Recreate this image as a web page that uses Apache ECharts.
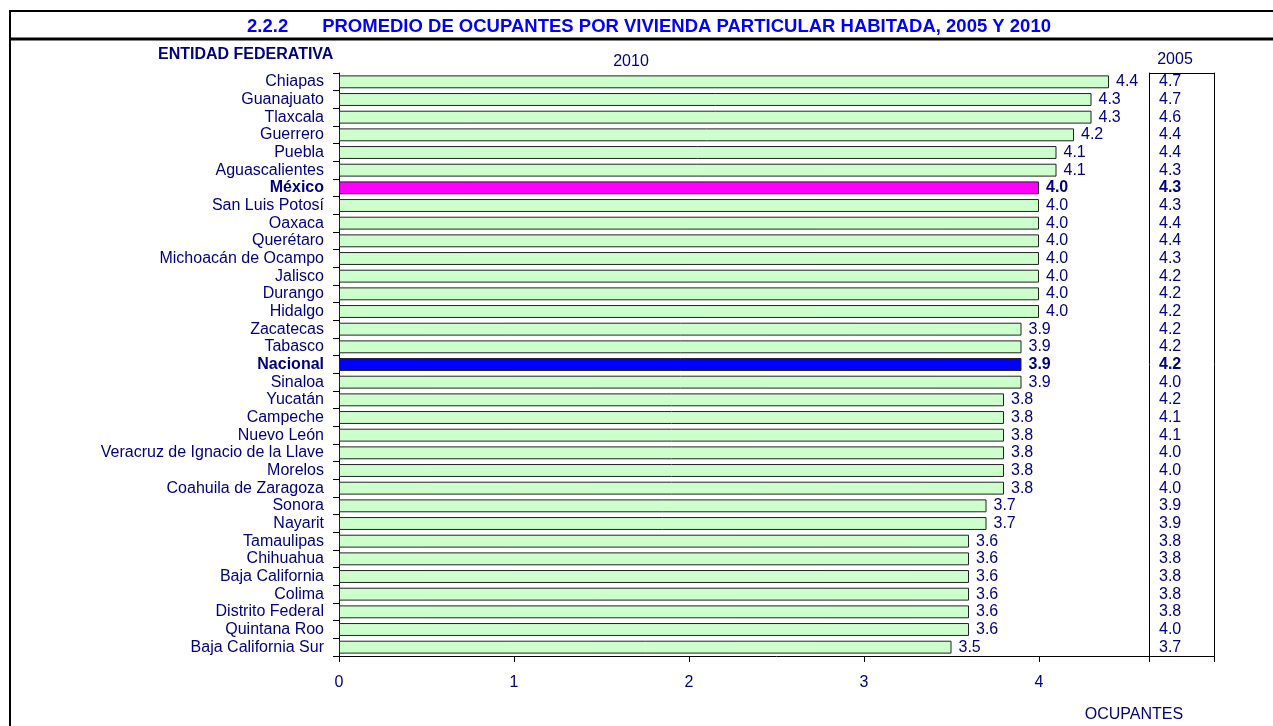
<!DOCTYPE html>
<html>
<head>
<meta charset="utf-8">
<script src="https://cdn.jsdelivr.net/npm/echarts@6/dist/echarts.min.js"></script>
<style>
html,body{margin:0;padding:0;background:#fff;}
#main{width:1273px;height:726px;}
</style>
</head>
<body>
<div id="main"></div>
<script>
const titleNumber = '2.2.2';
const titleText = 'PROMEDIO DE OCUPANTES POR VIVIENDA PARTICULAR HABITADA, 2005 Y 2010';
const categoryHeader = 'ENTIDAD FEDERATIVA';
const header2010 = '2010';
const header2005 = '2005';
const xAxisName = 'OCUPANTES';

const categories = [
  'Chiapas','Guanajuato','Tlaxcala','Guerrero','Puebla','Aguascalientes','México',
  'San Luis Potosí','Oaxaca','Querétaro','Michoacán de Ocampo','Jalisco','Durango',
  'Hidalgo','Zacatecas','Tabasco','Nacional','Sinaloa','Yucatán','Campeche','Nuevo León',
  'Veracruz de Ignacio de la Llave','Morelos','Coahuila de Zaragoza','Sonora','Nayarit',
  'Tamaulipas','Chihuahua','Baja California','Colima','Distrito Federal','Quintana Roo',
  'Baja California Sur'
];
const values2010 = [4.4,4.3,4.3,4.2,4.1,4.1,4.0,4.0,4.0,4.0,4.0,4.0,4.0,4.0,3.9,3.9,3.9,3.9,
  3.8,3.8,3.8,3.8,3.8,3.8,3.7,3.7,3.6,3.6,3.6,3.6,3.6,3.6,3.5];
const values2005 = [4.7,4.7,4.6,4.4,4.4,4.3,4.3,4.3,4.4,4.4,4.3,4.2,4.2,4.2,4.2,4.2,4.2,4.0,
  4.2,4.1,4.1,4.0,4.0,4.0,3.9,3.9,3.8,3.8,3.8,3.8,3.8,4.0,3.7];
const xTicks = [0,1,2,3,4];

const highlightColors = {'México':'#FF00FF','Nacional':'#0000FF'};
const NAVY = '#000080';
const FONT = '"Liberation Sans", Arial, sans-serif';
const FS = 16;

const chart = echarts.init(document.getElementById('main'), null, {renderer:'canvas'});

const barData = values2010.map((v,i) => {
  const hc = highlightColors[categories[i]];
  const d = {value: v};
  if (hc) {
    d.itemStyle = {color: hc};
    d.label = {fontWeight: 'bold'};
  }
  return d;
});

const option = {
  animation: false,
  backgroundColor: '#ffffff',
  textStyle: {fontFamily: FONT},
  title: [
    {
      text: '{n|' + titleNumber + '}{t|' + titleText + '}',
      left: 649, top: 17, textAlign: 'center', padding: 0,
      textStyle: {
        rich: {
          n: {fontFamily: FONT, fontSize: 18.5, fontWeight: 'bold', color: '#0000FF', padding: [0,34,0,0]},
          t: {fontFamily: FONT, fontSize: 18.5, fontWeight: 'bold', color: '#0000FF'}
        }
      }
    },
    {text: categoryHeader, left: 158, top: 47, padding: 0,
     textStyle: {fontFamily: FONT, fontSize: 16, fontWeight: 'bold', color: NAVY}},
    {text: header2010, left: 631, top: 54, textAlign: 'center', padding: 0,
     textStyle: {fontFamily: FONT, fontSize: FS, fontWeight: 'normal', color: NAVY}},
    {text: header2005, left: 1175, top: 52, textAlign: 'center', padding: 0,
     textStyle: {fontFamily: FONT, fontSize: FS, fontWeight: 'normal', color: NAVY}},
    {text: xAxisName, left: 1134, top: 707, textAlign: 'center', padding: 0,
     textStyle: {fontFamily: FONT, fontSize: FS, fontWeight: 'normal', color: NAVY}}
  ],
  grid: {left: 339, right: 59, top: 73, bottom: 70, containLabel: false},
  xAxis: {
    type: 'value', min: 0, max: 5, interval: 1,
    axisLine: {show: true, lineStyle: {color: '#000', width: 1}},
    axisTick: {show: true, length: 6, lineStyle: {color: '#000'}},
    splitLine: {show: false},
    axisLabel: {
      margin: 19, fontFamily: FONT, fontSize: FS, color: NAVY,
      formatter: v => xTicks.indexOf(v) >= 0 ? String(v) : ''
    }
  },
  yAxis: [
    {
      type: 'category', inverse: true, data: categories,
      axisLine: {show: true, lineStyle: {color: '#000', width: 1}},
      axisTick: {show: true, length: 6, interval: 0, lineStyle: {color: '#000'}},
      axisLabel: {
        interval: 0, margin: 15, fontFamily: FONT, fontSize: FS, color: NAVY,
        formatter: v => highlightColors[v] ? '{b|' + v + '}' : v,
        rich: {b: {fontFamily: FONT, fontSize: FS, fontWeight: 'bold', color: NAVY}}
      },
      splitLine: {show: false}
    },
    {
      type: 'category', inverse: true, data: categories, position: 'right', offset: -65,
      axisLine: {show: true, lineStyle: {color: '#000', width: 1}},
      axisTick: {show: false},
      axisLabel: {
        interval: 0, margin: 10, fontFamily: FONT, fontSize: FS, color: NAVY,
        formatter: (v, i) => highlightColors[v] ? '{b|' + values2005[i].toFixed(1) + '}' : values2005[i].toFixed(1),
        rich: {b: {fontFamily: FONT, fontSize: FS, fontWeight: 'bold', color: NAVY}}
      },
      splitLine: {show: false}
    },
    {
      type: 'category', inverse: true, data: categories, position: 'right', offset: 0,
      axisLine: {show: true, lineStyle: {color: '#000', width: 1}},
      axisTick: {show: false},
      axisLabel: {show: false},
      splitLine: {show: false}
    }
  ],
  series: [{
    type: 'bar',
    yAxisIndex: 0,
    data: barData,
    barCategoryGap: '27%',
    itemStyle: {color: '#CCFFCC', borderColor: '#222', borderWidth: 1},
    label: {
      show: true, position: 'right', distance: 7,
      fontFamily: FONT, fontSize: FS, color: NAVY,
      formatter: p => p.value.toFixed(1)
    }
  }],
  graphic: [
    {type: 'line', shape: {x1: 9, y1: 11, x2: 1273, y2: 11}, style: {stroke: '#000', lineWidth: 2}},
    {type: 'line', shape: {x1: 9, y1: 39, x2: 1273, y2: 39}, style: {stroke: '#000', lineWidth: 3}},
    {type: 'line', shape: {x1: 10, y1: 10, x2: 10, y2: 726}, style: {stroke: '#000', lineWidth: 2}},
    {type: 'line', shape: {x1: 1149, y1: 73.5, x2: 1214, y2: 73.5}, style: {stroke: '#000', lineWidth: 1}},
    {type: 'line', shape: {x1: 1149.5, y1: 656, x2: 1149.5, y2: 662}, style: {stroke: '#000', lineWidth: 1}}
  ]
};

chart.setOption(option);
</script>
</body>
</html>
